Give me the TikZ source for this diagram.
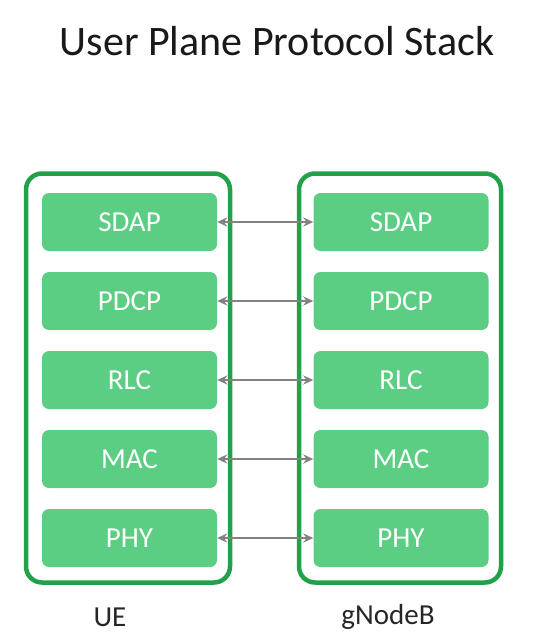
\documentclass[tikz,border=0pt]{standalone}
\usepackage{fontspec}
\setmainfont{Carlito}
\usetikzlibrary{arrows.meta}
\definecolor{outerg}{RGB}{34,160,74}
\definecolor{innerg}{RGB}{92,206,132}
\definecolor{arrg}{RGB}{130,130,130}
\begin{document}
\begin{tikzpicture}[x=1pt,y=-1pt,
  layerbox/.style={draw=none,fill=innerg,rounded corners=7pt,minimum width=175pt,minimum height=58pt,inner sep=0pt,text=white,font=\fontsize{29}{32}\selectfont},
  stackbox/.style={draw=outerg,line width=4.5pt,rounded corners=16pt,inner sep=0pt,fill=none},
  peer/.style={draw=arrg,line width=2.6pt,{Stealth[length=10pt,width=9pt]}-{Stealth[length=10pt,width=9pt]}},
  lbl/.style={font=\fontsize{29}{32}\selectfont,text=black!85}]
\useasboundingbox (0,0) rectangle (536,642);
\node[font=\fontsize{42}{46}\selectfont,text=black!90] (title) at (277,41) {User Plane Protocol Stack};
\node[stackbox,minimum width=204pt,minimum height=409pt] (ue) at (128,378) {};
\node[stackbox,minimum width=202pt,minimum height=409pt] (gnb) at (400,378) {};
\foreach \n/\y in {SDAP/222,PDCP/301,RLC/380,MAC/459,PHY/538}{
  \node[layerbox] (u\n) at (129.5,\y) {\n};
  \node[layerbox] (g\n) at (401,\y) {\n};
  \draw[peer] (u\n.east) -- (g\n.west);
}
\node[lbl] (uelbl) at (110,617) {UE};
\node[lbl] (gnblbl) at (388,617) {gNodeB};
\end{tikzpicture}
\end{document}
